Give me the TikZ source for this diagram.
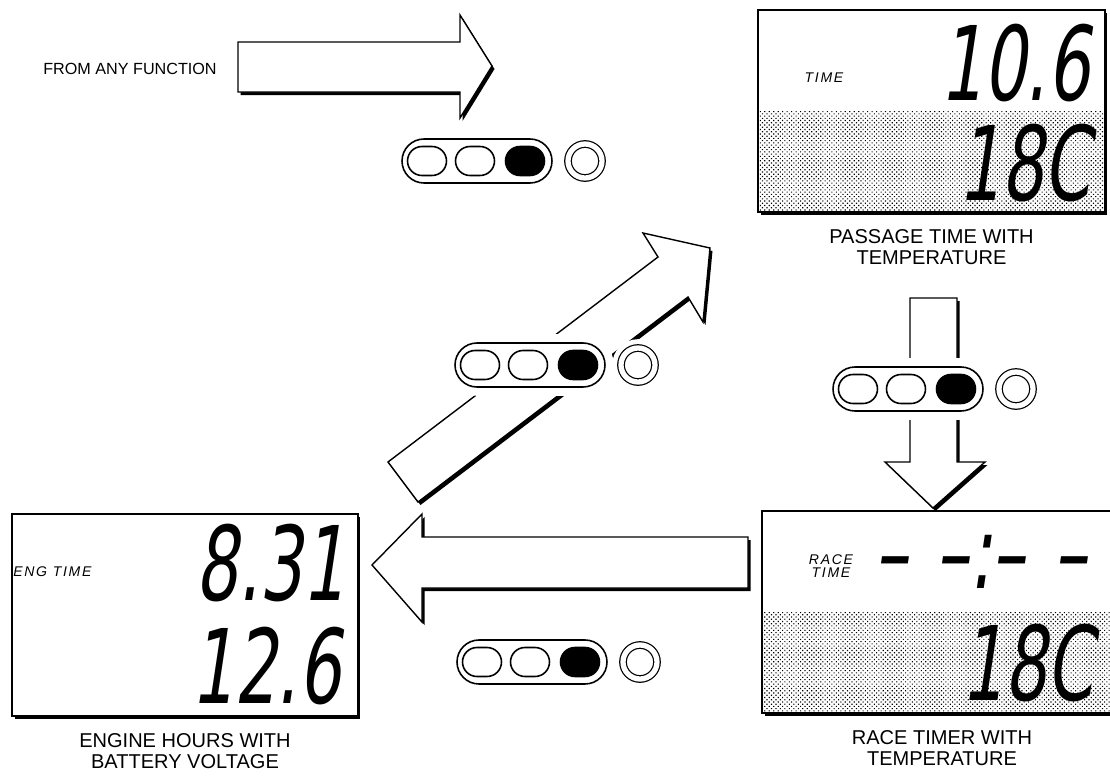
\documentclass[tikz,border=0pt]{standalone}
\usepackage{fontspec}
\setmainfont{Liberation Sans}
\newfontfamily\lcdfont{DejaVu Sans}[FakeSlant=0.15,FakeStretch=0.65]
\newfontfamily\tagfont{Liberation Sans}[LetterSpace=12]
\usetikzlibrary{positioning,shadows,patterns.meta}

\begin{document}
\begin{tikzpicture}[
  x=0.02cm, y=-0.02cm,
  hardshadow/.style={drop shadow={shadow xshift=0.05cm, shadow yshift=-0.06cm, fill=black, opacity=1}},
  display/.style={draw, fill=white, line width=0.8pt, minimum height=4.04cm, hardshadow},
  shaded/.style={path picture={\fill[pattern={Dots[distance=1.8pt, radius=0.45pt, angle=45]}] (path picture bounding box.west) rectangle (path picture bounding box.south east);}},
  digits/.style={font=\lcdfont\fontsize{58.6}{60}\selectfont, inner sep=0pt},
  tag/.style={font=\tagfont\itshape\fontsize{8}{7.4}\selectfont, align=center, inner sep=0pt},
  caption/.style={font=\fontsize{11.4}{12}\selectfont, align=center, inner sep=0pt},
  bigarrow/.style={draw, fill=white, line width=0.8pt, line join=miter, hardshadow},
  pill/.style={draw, fill=white, line width=0.9pt, minimum width=3cm, minimum height=0.88cm, rounded corners=0.44cm, preaction={draw=white, line width=10pt}},
  key/.style={draw, line width=0.9pt, minimum width=0.78cm, minimum height=0.58cm, rounded corners=0.29cm},
  knob/.style={circle, draw, fill=white, double, double distance=3pt, line width=0.7pt, minimum size=0.68cm, preaction={draw=white, line width=10pt}}
]
\useasboundingbox (0,0) rectangle (1110,778);
\clip (0,0) rectangle (1110,778);

% the three displays
\node[display, shaded, minimum width=6.94cm] (passage) at (931.5,111) {};
\node[display, minimum width=6.92cm] (engine) at (185,615) {};
\node[display, shaded, minimum width=7.2cm] (race) at (942,612) {};

\node[digits, anchor=base east] (ptime) at (1090,100) {10.6};
\node[digits, anchor=base east] (ptemp) at (1091,200) {18C};
\node[digits, anchor=base east] (ehours) at (345,600) {8.31};
\node[digits, anchor=base east] (evolt) at (341,703) {12.6};
\node[digits, anchor=base west] (rtime) at (874,588) {–\hspace{16pt}–:–\hspace{16pt}–};
\node[digits, anchor=base east] (rtemp) at (1094,700) {18C};

\node[tag] (ptag) at (824,78) {TIME};
\node[tag, anchor=west] (etag) at (13,572) {ENG TIME};
\node[tag] (rtag) at (831,566) {RACE\\TIME};

\node[caption, below=0.32cm of passage] (pcap) {PASSAGE TIME WITH\\TEMPERATURE};
\node[caption, below=0.32cm of engine] (ecap) {ENGINE HOURS WITH\\BATTERY VOLTAGE};
\node[caption, below=0.32cm of race] (rcap) {RACE TIMER WITH\\TEMPERATURE};

\node[font=\fontsize{9.2}{10}\selectfont, anchor=base] (from) at (130,74) {FROM ANY FUNCTION};

% block arrows
\draw[bigarrow] (238,42) -- (460,42) -- (460,15) -- (492,66) -- (460,118) -- (460,92) -- (238,92) -- cycle;
\draw[bigarrow] (388,462) -- (658,257) -- (643,233) -- (710,248) -- (703,322) -- (688,297) -- (418,502) -- cycle;
\draw[bigarrow] (910,298) -- (957,298) -- (957,462) -- (985,462) -- (933,508) -- (885,462) -- (910,462) -- cycle;
\draw[bigarrow] (748,537) -- (422,537) -- (422,514) -- (372,565) -- (422,622) -- (422,588) -- (748,588) -- cycle;

% push buttons
\foreach \n/\x/\y in {top/477/161, diag/530/365, down/908/389, low/532/662} {
  \node[pill] (pill\n) at (\x,\y) {};
  \node[key] (a\n) at (\x-50,\y) {};
  \node[key] (b\n) at (\x-2,\y) {};
  \node[key, fill=black] (c\n) at (\x+48,\y) {};
  \node[knob] (d\n) at (\x+108,\y) {};
}
\end{tikzpicture}
\end{document}
